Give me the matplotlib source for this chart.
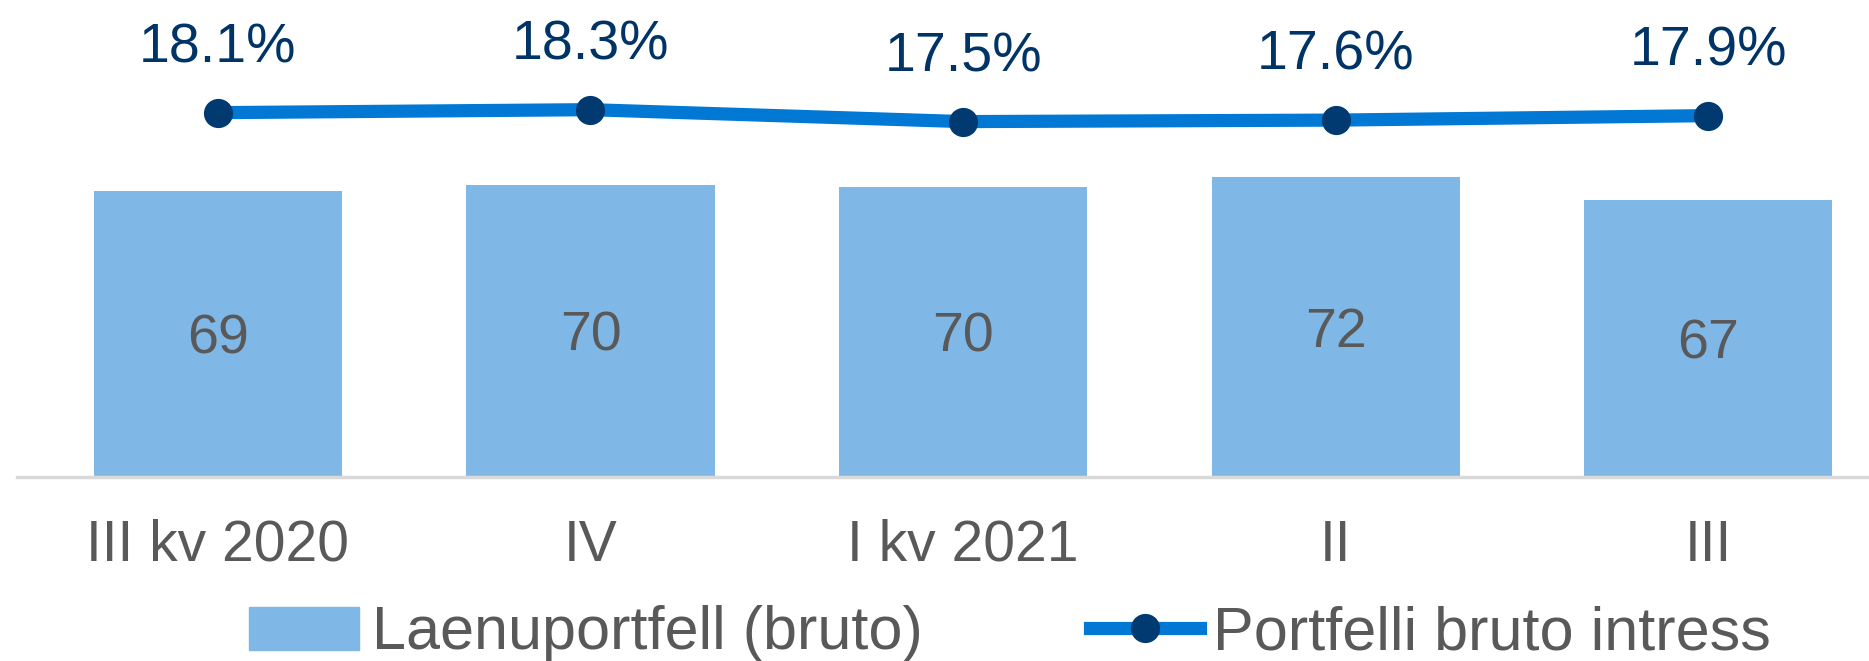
import matplotlib.pyplot as plt
from matplotlib.lines import Line2D
from matplotlib.patches import Patch

plt.rcParams['font.family'] = ['Liberation Sans', 'DejaVu Sans']

quarters = ['III kv 2020', 'IV', 'I kv 2021', 'II', 'III']
portfolio = [69.0, 70.4, 70.0, 72.3, 66.8]
interest = [18.1, 18.3, 17.5, 17.6, 17.9]

BAR_C = '#7FB8E6'
LINE_C = '#0078D4'
DOT_C = '#003A70'
GREY = '#595959'

fig = plt.figure(figsize=(18.69, 6.61), dpi=100)
ax = fig.add_axes([17 / 1869, 184 / 661, 1 - 17 / 1869, 477 / 661])

x = list(range(len(quarters)))
bars = ax.bar(x, portfolio, width=0.666, color=BAR_C, zorder=2)
for b, v in zip(bars, portfolio):
    ax.annotate(f'{v:.0f}', (b.get_x() + b.get_width() / 2, v / 2),
                xytext=(0, -4), textcoords='offset points',
                ha='center', va='center', fontsize=40, color=GREY)

ax.set_xlim(-0.539, 4.431)
ax.set_ylim(0, 115)
ax.set_xticks(x)
ax.set_xticklabels(quarters, fontsize=41, color=GREY)
ax.tick_params(axis='x', length=0, pad=30)
ax.set_yticks([])
for s in ['top', 'left', 'right']:
    ax.spines[s].set_visible(False)
ax.spines['bottom'].set_color('#D9D9D9')
ax.spines['bottom'].set_linewidth(2.5)

ax2 = ax.twinx()
ax2.plot(x, interest, color=LINE_C, lw=9.5, marker='o', ms=20,
         mfc=DOT_C, mec=DOT_C, zorder=3)
ax2.set_ylim(-6.35, 25.66)
ax2.set_yticks([])
for s in ax2.spines.values():
    s.set_visible(False)
for xi, v in zip(x, interest):
    ax2.annotate(f'{v:.1f}%', (xi, v), xytext=(0, 46.5), textcoords='offset points',
                 ha='center', va='center', fontsize=40, color='#003366')

handles = [Patch(color=BAR_C, label='Laenuportfell (bruto)'),
           Line2D([], [], color=LINE_C, lw=9.5, marker='o', ms=20,
                  mfc=DOT_C, mec=DOT_C, label='Portfelli bruto intress')]
fig.legend(handles=handles, ncol=2, loc='center', bbox_to_anchor=(1010 / 1869, 1 - 634 / 661),
           frameon=False, fontsize=44, labelcolor=GREY, handlelength=1.8,
           handletextpad=0.2, columnspacing=2.75, borderpad=0, borderaxespad=0)

fig.savefig('out.png', dpi=100)
